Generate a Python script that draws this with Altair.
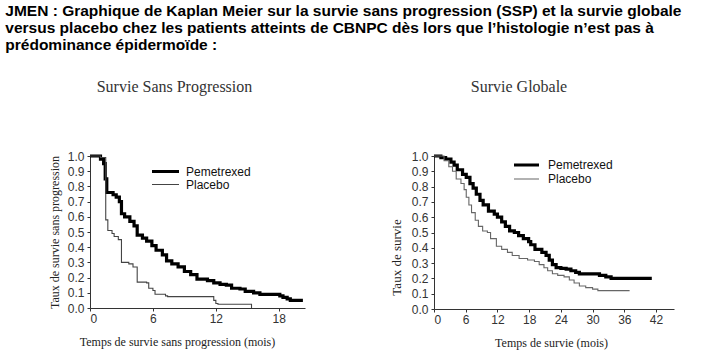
import altair as alt
import pandas as pd

# ---------------- data ----------------
groups = ["Pemetrexed", "Placebo"]

# Survie sans progression (mois, taux)
ssp_pem_t = [0, 1.0, 1.3, 1.45, 1.6, 2.2, 2.5, 2.8, 3.0, 3.3, 3.8, 4.2, 4.5, 5.0, 5.4, 5.9,
             6.3, 6.9, 7.3, 7.8, 8.4, 9.0, 9.6, 10.2, 11.2, 11.8, 12.4, 13.0, 13.5, 14.3,
             14.8, 15.6, 16.2, 18.1, 18.4, 18.8, 19.1, 20.3]
ssp_pem_s = [1.0, 0.98, 0.95, 0.85, 0.76, 0.745, 0.73, 0.70, 0.62, 0.60, 0.57, 0.54, 0.48, 0.46,
             0.44, 0.41, 0.38, 0.35, 0.31, 0.29, 0.27, 0.24, 0.22, 0.19, 0.18, 0.165, 0.155, 0.15,
             0.13, 0.125, 0.11, 0.10, 0.09, 0.08, 0.07, 0.06, 0.05, 0.05]

ssp_pla_t = [0, 1.0, 1.5, 1.7, 2.1, 2.3, 2.7, 3.0, 3.7, 4.1, 4.5, 5.4, 5.6, 6.0, 6.2, 7.2, 7.4,
             11.8, 12.0, 12.2, 15.4]
ssp_pla_s = [1.0, 0.99, 0.58, 0.51, 0.49, 0.47, 0.45, 0.30, 0.29, 0.27, 0.17, 0.165, 0.13, 0.115,
             0.09, 0.08, 0.075, 0.05, 0.03, 0.025, 0.0]

# Survie globale (mois, taux)
sg_pem_t = [0, 1.3, 2.2, 3.2, 3.8, 4.4, 5.4, 6.1, 6.8, 7.4, 8.0, 8.7, 9.3, 10.3, 11.4, 12.0, 12.8,
            13.5, 14.3, 15.2, 16.0, 16.9, 17.9, 18.3, 19.1, 20.4, 21.2, 21.8, 22.4, 23.1, 24.0,
            25.0, 25.9, 26.8, 27.5, 31.3, 32.5, 33.5, 41.2]
sg_pem_s = [1.0, 0.99, 0.98, 0.96, 0.94, 0.91, 0.88, 0.86, 0.82, 0.79, 0.75, 0.71, 0.68, 0.64,
            0.62, 0.60, 0.57, 0.54, 0.51, 0.50, 0.48, 0.46, 0.44, 0.42, 0.39, 0.37, 0.35, 0.32,
            0.29, 0.27, 0.265, 0.26, 0.25, 0.24, 0.23, 0.22, 0.21, 0.20, 0.20]

sg_pla_t = [0, 1.9, 2.8, 3.5, 4.2, 5.1, 5.7, 6.1, 6.6, 7.1, 7.8, 8.4, 9.2, 10.1, 10.7, 11.8, 12.8,
            13.9, 14.8, 16.1, 17.7, 19.0, 19.9, 20.8, 21.5, 22.4, 23.4, 24.6, 25.6, 26.5, 27.5,
            28.7, 30.0, 31.0, 37.0]
sg_pla_s = [1.0, 0.97, 0.93, 0.90, 0.85, 0.82, 0.78, 0.73, 0.68, 0.63, 0.58, 0.54, 0.51, 0.50,
            0.46, 0.41, 0.39, 0.37, 0.35, 0.33, 0.32, 0.31, 0.29, 0.27, 0.25, 0.23, 0.22, 0.21,
            0.19, 0.17, 0.15, 0.14, 0.13, 0.12, 0.12]

y_ticks = [0.0, 0.1, 0.2, 0.3, 0.4, 0.5, 0.6, 0.7, 0.8, 0.9, 1.0]
ssp_x_ticks = [0, 6, 12, 18]
sg_x_ticks = [0, 6, 12, 18, 24, 30, 36, 42]

main_title = [
    "JMEN : Graphique de Kaplan Meier sur la survie sans progression (SSP) et la survie globale",
    "versus placebo chez les patients atteints de CBNPC dès lors que l\u2019histologie n\u2019est pas à",
    "prédominance épidermoïde :",
]


def km_frame(t1, s1, t2, s2):
    a = pd.DataFrame({"t": t1, "s": s1, "groupe": groups[0]})
    b = pd.DataFrame({"t": t2, "s": s2, "groupe": groups[1]})
    return pd.concat([a, b], ignore_index=True)


SANS = "Liberation Sans"
SERIF = "Liberation Serif"


def panel(df, xmax, xticks, xtitle, ytitle, w, h, title, title_dx, title_x, ytitle_size,
          ytitle_y, leg_x, leg_y, sym_len, row_h, pla_color, leg_offset):
    axis_common = dict(
        labelFont=SANS, labelFontSize=12, labelColor="#333",
        tickSize=3, tickColor="#333", domainColor="#333", domainWidth=1,
        titleFont=SERIF, titleFontWeight="normal", titleColor="#222", grid=False,
    )
    if ytitle_y is None:
        yaxis = alt.Axis(values=y_ticks, format=".1f", title=ytitle, labelPadding=3,
                         titlePadding=6, titleFontSize=ytitle_size, **axis_common)
    else:
        yaxis = alt.Axis(values=y_ticks, format=".1f", title=ytitle, labelPadding=3,
                         titlePadding=8, titleFontSize=ytitle_size, titleY=ytitle_y,
                         **axis_common)
    leg = alt.Legend(
        orient="none", legendX=leg_x, legendY=leg_y, title=None,
        symbolType="stroke", symbolSize=sym_len * sym_len, clipHeight=row_h,
        rowPadding=0, padding=0, labelFont=SANS, labelFontSize=12, labelColor="#111",
        labelOffset=leg_offset,
    )
    return (
        alt.Chart(df)
        .mark_line(interpolate="step-after", strokeCap="butt", strokeJoin="miter")
        .encode(
            x=alt.X("t:Q", scale=alt.Scale(domain=[0, xmax], nice=False, zero=True),
                    axis=alt.Axis(values=xticks, title=xtitle, labelPadding=2,
                                  titlePadding=12, titleFontSize=12, titleX=title_x,
                                  **axis_common)),
            y=alt.Y("s:Q", scale=alt.Scale(domain=[0, 1], nice=False), axis=yaxis),
            color=alt.Color("groupe:N", scale=alt.Scale(domain=groups,
                                                         range=["#000000", pla_color]),
                            legend=leg),
            strokeWidth=alt.StrokeWidth("groupe:N",
                                        scale=alt.Scale(domain=groups, range=[3.2, 1.1]),
                                        legend=leg),
        )
        .properties(
            width=w, height=h,
            title=alt.TitleParams(title, font=SERIF, fontSize=16, fontWeight="normal",
                                  color="#333", anchor="middle", dx=title_dx, offset=55),
        )
    )


left = panel(km_frame(ssp_pem_t, ssp_pem_s, ssp_pla_t, ssp_pla_s), 20.5, ssp_x_ticks,
             "Temps de survie sans progression (mois)", "Taux de survie sans progression",
             215, 152, "Survie Sans Progression", -23, 87, 12, None,
             60, 9, 27, 13, "#444", 5)

right = panel(km_frame(sg_pem_t, sg_pem_s, sg_pla_t, sg_pla_s), 45.4, sg_x_ticks,
              "Temps de survie (mois)", "Taux de survie",
              240, 153, "Survie Globale", -35, 117, 13, 101,
              78, 2, 25, 14, "#666", 7)

chart = (
    alt.hconcat(left, right, spacing=80)
    .resolve_scale(color="independent", strokeWidth="independent", x="independent",
                   y="independent")
    .resolve_legend(color="independent", strokeWidth="independent")
    .properties(
        title=alt.TitleParams(main_title, anchor="start", font=SANS, fontSize=15.5,
                              fontWeight="bold", color="#000", lineHeight=17, dx=-43,
                              offset=25),
        padding={"left": 5, "top": 4, "right": 0, "bottom": 4},
        background="white",
    )
    .configure_view(stroke=None)
)

chart.save("out.html", embed_options={"renderer": "svg", "actions": False})
